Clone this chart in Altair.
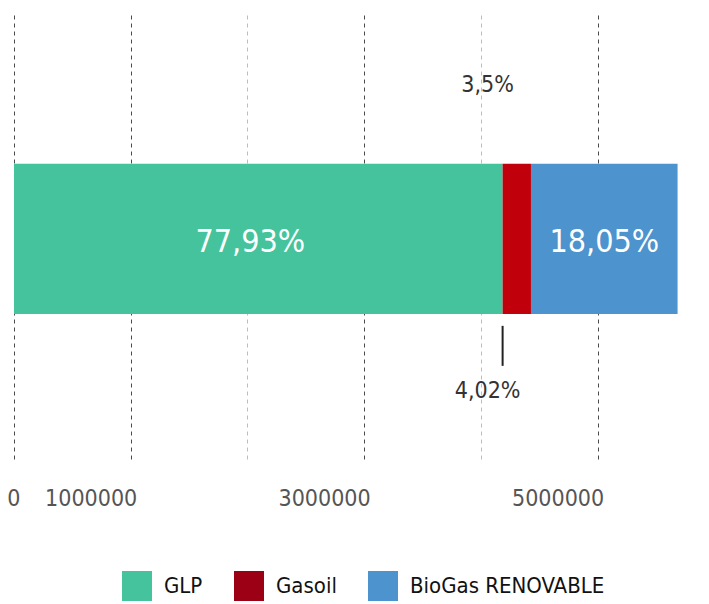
import altair as alt
import pandas as pd

# ---- data ----
fuels = ["GLP", "Gasoil", "BioGas RENOVABLE"]
values = [4186000, 243000, 1256000]
bar_labels = ["77,93%", "", "18,05%"]
annot_top = "3,5%"
annot_bottom = "4,02%"
tick_values = [0, 1000000, 2000000, 3000000, 4000000, 5000000]
legend_colors = ["#45C39D", "#9B0014", "#4D93CD"]
gasoil_bar_color = "#C0000B"

FONT = "Liberation Sans Narrow, DejaVu Sans Condensed, Roboto, sans-serif"

df = pd.DataFrame({
    "cat": ["total"] * len(fuels),
    "fuel": fuels,
    "value": values,
    "label": bar_labels,
    "order": list(range(len(fuels))),
})

base = (
    alt.Chart(df)
    .transform_window(cum="sum(value)", sort=[alt.SortField("order")], frame=[None, 0])
    .transform_calculate(start="datum.cum - datum.value", mid="datum.cum - datum.value / 2")
)

x_scale = alt.Scale(domain=[0, 5800000], nice=False, zero=True)
y_scale = alt.Scale(paddingInner=0, paddingOuter=0.983, align=0.508)
Y = alt.Y("cat:N", scale=y_scale, axis=None)

grid_color = {
    "condition": {"test": "datum.value == 2000000 || datum.value == 4000000", "value": "#bdbdbd"},
    "value": "#4a4a4a",
}

x_axis = alt.Axis(
    values=tick_values,
    format="d",
    grid=True,
    gridDash=[4, 4],
    gridColor=grid_color,
    gridWidth=1,
    domain=False,
    ticks=False,
    labelAlign="right",
    labelOffset=6,
    labelPadding=28,
    labelFontSize=23,
    labelFont=FONT,
    labelColor="#555555",
    labelExpr="datum.value == 2000000 || datum.value == 4000000 ? '' : datum.label",
    title=None,
)

color = alt.condition(
    "datum.fuel == 'Gasoil'",
    alt.value(gasoil_bar_color),
    alt.Color(
        "fuel:N",
        scale=alt.Scale(domain=fuels, range=legend_colors),
        legend=alt.Legend(
            orient="none",
            legendX=108,
            legendY=557,
            direction="horizontal",
            title=None,
            symbolType="square",
            symbolSize=900,
            symbolStrokeWidth=0,
            symbolOpacity=1,
            labelFontSize=22,
            labelFont=FONT,
            labelColor="#111111",
            labelOffset=12,
            labelLimit=400,
            columnPadding=31,
        ),
    ),
)

bars = base.mark_bar().encode(
    x=alt.X("start:Q", scale=x_scale, axis=x_axis),
    x2="cum:Q",
    y=Y,
    color=color,
)

label_glp = base.transform_filter("datum.fuel == 'GLP'").mark_text(
    color="white", fontSize=32, font=FONT, dx=-8, dy=3
).encode(x=alt.X("mid:Q"), y=Y, text="label:N")

label_bio = base.transform_filter("datum.fuel == 'BioGas RENOVABLE'").mark_text(
    color="white", fontSize=32, font=FONT, dy=3
).encode(x=alt.X("mid:Q"), y=Y, text="label:N")

gas = base.transform_filter("datum.fuel == 'Gasoil'")

ann_top = gas.mark_text(color="#333333", fontSize=23, font=FONT, dx=-15, dy=-153.5).encode(
    x="start:Q", y=Y, text=alt.value(annot_top)
)
ann_bottom = gas.mark_text(color="#333333", fontSize=23, font=FONT, dx=-15, dy=152.5).encode(
    x="start:Q", y=Y, text=alt.value(annot_bottom)
)
ann_tick = gas.mark_tick(orient="vertical", size=40, thickness=2, yOffset=107, color="#222222", opacity=1).encode(
    x="start:Q", y=Y
)

chart = (
    alt.layer(bars, label_glp, label_bio, ann_top, ann_bottom, ann_tick)
    .properties(
        width=677,
        height=445,
        autosize=alt.AutoSizeParams(type="none"),
        padding={"left": 6, "top": 6, "right": 5, "bottom": 143},
    )
    .configure_view(stroke=None)
)

chart.save("out.html", embed_options={"renderer": "svg", "actions": False})
